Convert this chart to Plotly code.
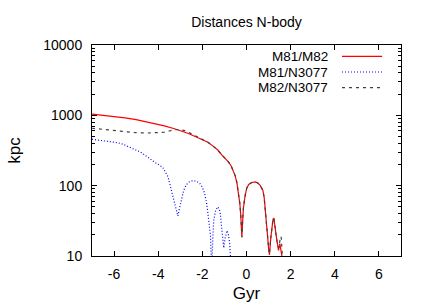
import plotly.graph_objects as go

# ---- data ----
red_x = [-7.0, -6.5, -6.0, -5.5, -5.0, -4.5, -4.17, -3.72, -3.3, -3.04, -2.66, -2.3, -2.0,
         -1.75, -1.5, -1.3, -1.12, -0.95, -0.82, -0.7, -0.61, -0.52, -0.44, -0.36, -0.3,
         -0.26, -0.23, -0.21, -0.18, -0.14, -0.07, 0.01, 0.1, 0.24, 0.4, 0.51, 0.62, 0.74,
         0.8, 0.85, 0.9, 0.95, 1.0, 1.04, 1.1, 1.15, 1.2, 1.24, 1.29, 1.34, 1.4, 1.45,
         1.51, 1.56, 1.6, 1.64]
red_y = [1040, 1005, 965, 920, 870, 810, 773, 709, 650, 612, 557, 495, 445,
         415, 362, 321, 274, 242, 218, 192, 167, 140, 112, 80, 55,
         38, 26, 18.5, 29, 48, 70, 92, 104, 111, 113, 109, 101, 86,
         68, 48, 32, 20, 13, 10.4, 18, 28, 33, 34.5, 28, 20, 15, 12,
         15, 12.5, 10.2, 7]

blue_x = [-7.0, -6.5, -6.0, -5.68, -5.4, -4.8, -4.2, -3.8, -3.56, -3.41, -3.26, -3.18,
          -3.11, -3.04, -2.96, -2.85, -2.73, -2.6, -2.43, -2.28, -2.13, -2.0, -1.9,
          -1.82, -1.75, -1.69, -1.63, -1.6, -1.58, -1.56, -1.52, -1.48, -1.4, -1.3,
          -1.24, -1.19, -1.14, -1.1, -1.03, -0.97, -0.92, -0.88, -0.82, -0.77, -0.73, -0.7]
blue_y = [456, 440, 415, 398, 365, 300, 220, 183, 135, 87, 56, 45,
          37, 47, 63, 85, 103, 113, 118, 116, 109, 95, 78,
          60, 41, 28, 19, 10, 6, 9, 20, 33, 44, 50,
          47, 41, 28, 19, 13, 18, 22, 23, 20, 16, 10, 6]

gray_x = [-7.0, -6.5, -6.0, -5.5, -5.0, -4.5, -4.0, -3.72, -3.5, -3.3, -3.04, -2.8, -2.59,
          -2.21, -1.98, -1.75, -1.5, -1.3, -1.12, -0.95, -0.82, -0.7, -0.61, -0.52, -0.44,
          -0.36, -0.3, -0.26, -0.23, -0.21, -0.18, -0.14, -0.07, 0.01, 0.1, 0.24, 0.4,
          0.51, 0.62, 0.74, 0.8, 0.85, 0.9, 0.95, 1.0, 1.04, 1.1, 1.15, 1.2, 1.24, 1.29,
          1.34, 1.4, 1.46, 1.52, 1.57, 1.61, 1.65]
gray_y = [655, 630, 600, 580, 566, 560, 568, 575, 598, 622, 631, 605, 566,
          497, 452, 415, 362, 321, 274, 242, 218, 192, 167, 140, 112,
          80, 55, 38, 26, 18.5, 29, 48, 70, 92, 104, 111, 113,
          109, 101, 86, 68, 48, 32, 20, 13, 10.6, 18, 28, 33, 34.5, 28,
          20, 15, 13, 17, 19, 12, 7]

series_names = ["M81/M82", "M81/N3077", "M82/N3077"]
series_colors = ["#ff0000", "#0000ff", "#404040"]
series_dash = ["solid", "1px,2px", "3px,4px"]

x_ticks = [-6, -4, -2, 0, 2, 4, 6]
x_tick_labels = ["-6", "-4", "-2", "0", "2", "4", "6"]
y_ticks = [10, 100, 1000, 10000]
y_tick_labels = ["10", "100", "1000", "10000"]
y_minor = [m * d for d in (10, 100, 1000) for m in range(2, 10)]

FONT = "Liberation Sans, Arial, sans-serif"

fig = go.Figure()
for xs, ys, name, col, dash in zip([red_x, blue_x, gray_x], [red_y, blue_y, gray_y],
                                   series_names, series_colors, series_dash):
    fig.add_trace(go.Scatter(x=xs, y=ys, mode="lines", name=name, showlegend=False,
                             line=dict(color=col, width=1.2, dash=dash)))

# manual gnuplot-style legend (text right-aligned, sample to the right)
leg_y = [0.946, 0.872, 0.798]
for name, col, dash, ly in zip(series_names, series_colors, series_dash, leg_y):
    fig.add_annotation(x=0.770, y=ly, xref="paper", yref="paper", text=name,
                       showarrow=False, xanchor="right", yanchor="middle",
                       font=dict(family=FONT, size=13.5, color="black"))
    fig.add_shape(type="line", xref="paper", yref="paper", x0=0.809, x1=0.939,
                  y0=ly, y1=ly, line=dict(color=col, width=1.2, dash=dash))

fig.update_layout(
    width=436, height=305,
    margin=dict(l=92, r=35, t=45, b=49),
    paper_bgcolor="white", plot_bgcolor="white",
    font=dict(family=FONT, size=14, color="black"),
    title=dict(text="Distances N-body", x=0.5, xref="paper", y=1 - 22 / 305,
               yref="container", yanchor="middle", xanchor="center",
               font=dict(family=FONT, size=14, color="black")),
)
fig.update_xaxes(range=[-7, 7], tickmode="array", tickvals=x_ticks, ticktext=x_tick_labels,
                 ticks="inside", ticklen=5, tickcolor="black", showline=True,
                 linecolor="black", linewidth=1, mirror="ticks", showgrid=False,
                 zeroline=False, ticklabelstandoff=5, automargin=False,
                 title=dict(text="Gyr", standoff=6))
fig.update_yaxes(type="log", range=[1, 4], tickmode="array", tickvals=y_ticks,
                 ticktext=y_tick_labels, ticks="inside", ticklen=5, tickcolor="black",
                 showline=True, linecolor="black", linewidth=1, mirror="ticks",
                 showgrid=False, zeroline=False, ticklabelstandoff=6, automargin=False,
                 minor=dict(tickmode="array", tickvals=y_minor, ticks="inside",
                            ticklen=3, tickcolor="black", showgrid=False),
                 title=dict(text="kpc", standoff=18))

fig.write_html("out.html", config={"displayModeBar": False},
               post_script="document.body.style.margin='0';")
